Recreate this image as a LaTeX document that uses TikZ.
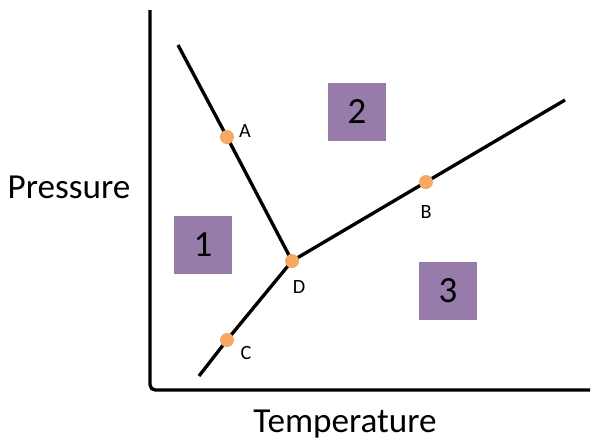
\documentclass[tikz,border=0pt]{standalone}
\usepackage{fontspec}
\setmainfont{Carlito}
\usepackage{tikz}
\usetikzlibrary{
	arrows.meta,
	positioning,
	backgrounds
}
\definecolor{phasebox}{RGB}{151,124,171}
\definecolor{pointdot}{RGB}{247,168,100}

\begin{document}
\begin{tikzpicture}[>=stealth,x=0.02cm,y=-0.02cm,
		boundary/.style={line width=1.9pt},
		dot/.style={circle,fill=pointdot,inner sep=0pt,minimum size=14*0.02cm},
		region/.style={fill=phasebox,minimum size=58*0.02cm,inner sep=0pt,font=\fontsize{21}{24}\selectfont},
		ptlabel/.style={font=\fontsize{11.5}{13}\selectfont}]
		\useasboundingbox (0,0) rectangle (592,444);
		
		% Axes
		\coordinate (ytop) at (150,10);
		\coordinate (origin) at (150,390);
		\coordinate (xend) at (590,390);
		\draw[boundary,rounded corners=3pt] (ytop) -- (origin) -- (xend);
		\node (plabel) at (69,187) {\fontsize{20}{23}\selectfont Pressure};
		\node (tlabel) at (345,424) {\fontsize{20}{23}\selectfont Temperature};
		
		% Regions
		\node[region] (r1) at (203,245) {1};
		\node[region] (r2) at (357,112) {2};
		\node[region] (r3) at (448,291) {3};
		
		% Points
		\node[dot] (A) at (227,137) {};
		\node[dot] (B) at (426,182) {};
		\node[dot] (C) at (227,340) {};
		\node[dot] (D) at (292,261) {};
		\node[ptlabel] at (245,131) {A};
		\node[ptlabel] at (426,212) {B};
		\node[ptlabel] at (246,353) {C};
		\node[ptlabel] at (299,287) {D};
		
		% Phase boundaries
		\coordinate (lstart) at (178,45);
		\coordinate (cstart) at (199,376);
		\coordinate (bend) at (565,100);
		\begin{scope}[on background layer]
			\draw[boundary] (lstart) -- (A.center) -- (D.center);
			\draw[boundary] (cstart) -- (C.center) -- (D.center) -- (B.center) -- (bend);
		\end{scope}
		
	\end{tikzpicture}
\end{document}
